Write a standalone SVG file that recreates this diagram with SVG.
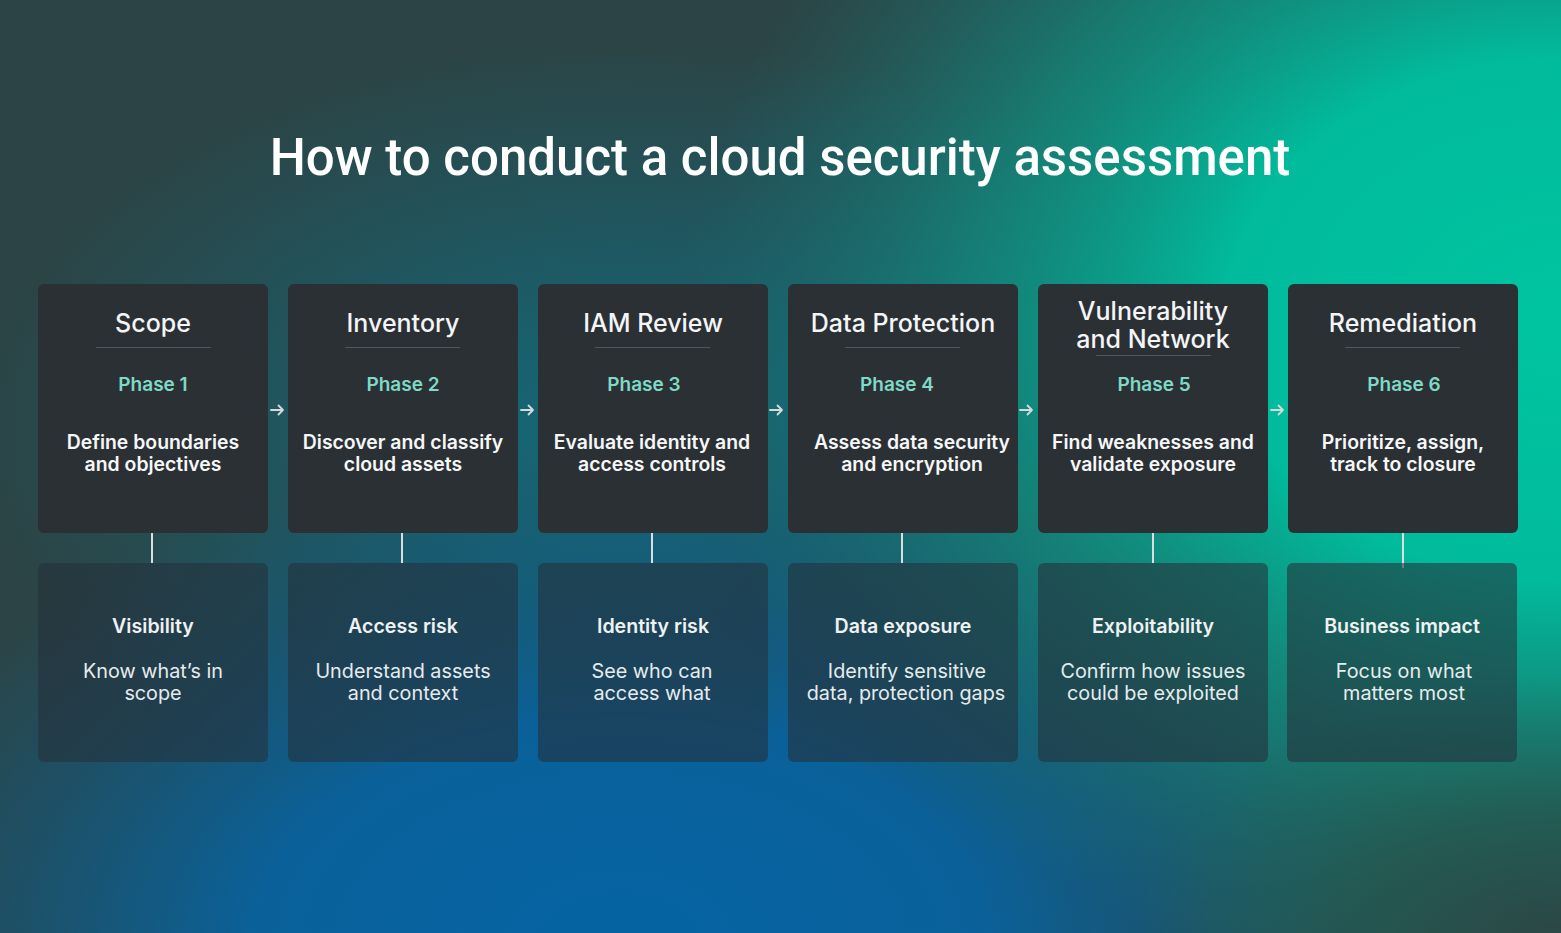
<svg xmlns="http://www.w3.org/2000/svg" width="1561" height="933" viewBox="0 0 1561 933">
<defs>
<radialGradient id="gGreen" gradientUnits="userSpaceOnUse" cx="1561" cy="320" r="880" gradientTransform="translate(1561 320) scale(1 0.78) translate(-1561 -320)">
<stop offset="0" stop-color="#00c4a0"/>
<stop offset="0.38" stop-color="#01bb9c"/>
<stop offset="0.68" stop-color="#0c9a8a" stop-opacity="0.6"/>
<stop offset="1" stop-color="#147a7c" stop-opacity="0"/>
</radialGradient>
<radialGradient id="gBlue" gradientUnits="userSpaceOnUse" cx="620" cy="940" r="800" gradientTransform="translate(620 940) scale(1 0.6) translate(-620 -940)">
<stop offset="0" stop-color="#0563a3"/>
<stop offset="0.45" stop-color="#0a619a"/>
<stop offset="1" stop-color="#0c5f8a" stop-opacity="0"/>
</radialGradient>
<radialGradient id="gMid" gradientUnits="userSpaceOnUse" cx="620" cy="430" r="650" gradientTransform="translate(620 430) scale(1 0.6) translate(-620 -430)">
<stop offset="0" stop-color="#13697a"/>
<stop offset="1" stop-color="#13697a" stop-opacity="0"/>
</radialGradient>
<radialGradient id="gCorner" gradientUnits="userSpaceOnUse" cx="1561" cy="940" r="330" gradientTransform="translate(1561 940) scale(1.3 0.8) translate(-1561 -940)">
<stop offset="0" stop-color="#2c4646"/>
<stop offset="0.5" stop-color="#24584f" stop-opacity="0.75"/>
<stop offset="1" stop-color="#1d6a5e" stop-opacity="0"/>
</radialGradient>
<style>
.top{fill:#2b3035}
.bot{fill:#25313a;fill-opacity:0.58}
.div{stroke:#50575d;stroke-width:1}
.conn{stroke:#d9dee0;stroke-width:2;fill:none}
.arr{stroke:#d4dadd;stroke-width:1.8;fill:none;stroke-linecap:round;stroke-linejoin:round}
.t{font-family:Inter,Lato,"Noto Sans",sans-serif;text-anchor:middle}
.ttl{font-size:25px;font-weight:500;fill:#f3f5f6}
.ph{font-size:19px;font-weight:600;fill:#7fd9c6}
.ds{font-size:19.4px;font-weight:600;fill:#f6f7f8}
.bl{font-size:19.6px;font-weight:600;fill:#eef2f3}
.bd{font-size:19.8px;font-weight:400;fill:#e6ecee}
</style>
</defs>
<rect width="1561" height="933" fill="#2c4445"/>
<rect width="1561" height="933" fill="url(#gMid)"/>
<rect width="1561" height="933" fill="url(#gBlue)"/>
<rect width="1561" height="933" fill="url(#gGreen)"/>
<rect width="1561" height="933" fill="url(#gCorner)"/>

<text x="780" y="175" font-family="Roboto,'Liberation Sans',sans-serif" font-size="51" font-weight="500" fill="#ffffff" text-anchor="middle">How to conduct a cloud security assessment</text>

<g id="connectors">
<line class="conn" x1="152" y1="533" x2="152" y2="563"/>
<line class="conn" x1="402" y1="533" x2="402" y2="563"/>
<line class="conn" x1="652" y1="533" x2="652" y2="563"/>
<line class="conn" x1="902" y1="533" x2="902" y2="563"/>
<line class="conn" x1="1153" y1="533" x2="1153" y2="563"/>
<line class="conn" x1="1403" y1="533" x2="1403" y2="568" stroke="#c9d2d2"/>
<path class="arr" d="M271 410H283M278.5 405.5L283 410L278.5 414.5"/>
<path class="arr" d="M521 410H533M528.5 405.5L533 410L528.5 414.5"/>
<path class="arr" d="M770 410H782M777.5 405.5L782 410L777.5 414.5"/>
<path class="arr" d="M1020 410H1032M1027.5 405.5L1032 410L1027.5 414.5"/>
<path class="arr" d="M1271 410H1283M1278.5 405.5L1283 410L1278.5 414.5"/>
</g>

<g id="phase1">
<rect class="top" x="38" y="284" width="230" height="249" rx="6"/>
<text class="t ttl" x="153" y="332">Scope</text>
<line class="div" x1="96" y1="347.5" x2="211" y2="347.5"/>
<text class="t ph" x="153" y="391">Phase 1</text>
<text class="t ds" x="153" y="449">Define boundaries</text>
<text class="t ds" x="153" y="471">and objectives</text>
</g>
<g id="phase2">
<rect class="top" x="288" y="284" width="230" height="249" rx="6"/>
<text class="t ttl" x="403" y="332">Inventory</text>
<line class="div" x1="345" y1="347.5" x2="460" y2="347.5"/>
<text class="t ph" x="403" y="391">Phase 2</text>
<text class="t ds" x="403" y="449">Discover and classify</text>
<text class="t ds" x="403" y="471">cloud assets</text>
</g>
<g id="phase3">
<rect class="top" x="538" y="284" width="230" height="249" rx="6"/>
<text class="t ttl" x="653" y="332">IAM Review</text>
<line class="div" x1="595" y1="347.5" x2="710" y2="347.5"/>
<text class="t ph" x="644" y="391">Phase 3</text>
<text class="t ds" x="652" y="449">Evaluate identity and</text>
<text class="t ds" x="652" y="471">access controls</text>
</g>
<g id="phase4">
<rect class="top" x="788" y="284" width="230" height="249" rx="6"/>
<text class="t ttl" x="903" y="332">Data Protection</text>
<line class="div" x1="845" y1="347.5" x2="960" y2="347.5"/>
<text class="t ph" x="897" y="391">Phase 4</text>
<text class="t ds" x="912" y="449">Assess data security</text>
<text class="t ds" x="912" y="471">and encryption</text>
</g>
<g id="phase5">
<rect class="top" x="1038" y="284" width="230" height="249" rx="6"/>
<text class="t ttl" x="1153" y="320">Vulnerability</text>
<text class="t ttl" x="1153" y="348">and Network</text>
<line class="div" x1="1096" y1="355.5" x2="1211" y2="355.5"/>
<text class="t ph" x="1154" y="391">Phase 5</text>
<text class="t ds" x="1153" y="449">Find weaknesses and</text>
<text class="t ds" x="1153" y="471">validate exposure</text>
</g>
<g id="phase6">
<rect class="top" x="1288" y="284" width="230" height="249" rx="6"/>
<text class="t ttl" x="1403" y="332">Remediation</text>
<line class="div" x1="1345" y1="347.5" x2="1460" y2="347.5"/>
<text class="t ph" x="1404" y="391">Phase 6</text>
<text class="t ds" x="1403" y="449">Prioritize, assign,</text>
<text class="t ds" x="1403" y="471">track to closure</text>
</g>

<g id="outcome1">
<rect class="bot" x="38" y="563" width="230" height="199" rx="6"/>
<text class="t bl" x="153" y="633">Visibility</text>
<text class="t bd" x="153" y="678">Know what’s in</text>
<text class="t bd" x="153" y="700">scope</text>
</g>
<g id="outcome2">
<rect class="bot" x="288" y="563" width="230" height="199" rx="6"/>
<text class="t bl" x="403" y="633">Access risk</text>
<text class="t bd" x="403" y="678">Understand assets</text>
<text class="t bd" x="403" y="700">and context</text>
</g>
<g id="outcome3">
<rect class="bot" x="538" y="563" width="230" height="199" rx="6"/>
<text class="t bl" x="653" y="633">Identity risk</text>
<text class="t bd" x="652" y="678">See who can</text>
<text class="t bd" x="652" y="700">access what</text>
</g>
<g id="outcome4">
<rect class="bot" x="788" y="563" width="230" height="199" rx="6"/>
<text class="t bl" x="903" y="633">Data exposure</text>
<text class="t bd" x="907" y="678">Identify sensitive</text>
<text class="t bd" x="906" y="700">data, protection gaps</text>
</g>
<g id="outcome5">
<rect class="bot" x="1038" y="563" width="230" height="199" rx="6"/>
<text class="t bl" x="1153" y="633">Exploitability</text>
<text class="t bd" x="1153" y="678">Confirm how issues</text>
<text class="t bd" x="1153" y="700">could be exploited</text>
</g>
<g id="outcome6">
<rect class="bot" x="1287" y="563" width="230" height="199" rx="6"/>
<text class="t bl" x="1402" y="633">Business impact</text>
<text class="t bd" x="1404" y="678">Focus on what</text>
<text class="t bd" x="1404" y="700">matters most</text>
</g>
</svg>
